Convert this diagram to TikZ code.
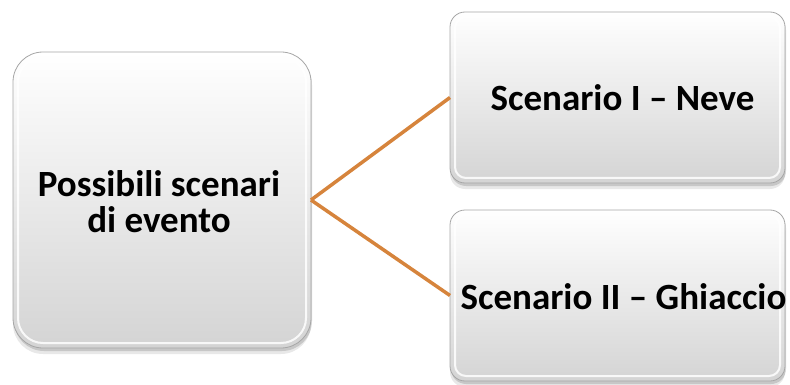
\documentclass[tikz,border=0pt]{standalone}
\usepackage{fontspec}
\setmainfont{Carlito}
\usetikzlibrary{shadows}
\definecolor{conn}{HTML}{D6843C}
\definecolor{edgegray}{HTML}{A6A6A6}
\definecolor{facebot}{HTML}{D4D4D4}
\begin{document}
\begin{tikzpicture}[x=1pt,y=-1pt,
  card/.style={draw=edgegray, line width=0.8pt, top color=white, bottom color=facebot,
    inner sep=0pt, outer sep=0pt, align=center,
    drop shadow={shadow xshift=1pt, shadow yshift=-3pt, opacity=.14, fill=black},
    drop shadow={shadow xshift=0pt, shadow yshift=-6pt, opacity=.09, fill=black}},
  bigcard/.style={card, rounded corners=30pt, minimum width=298pt, minimum height=296pt},
  smallcard/.style={card, rounded corners=15pt, minimum width=335pt, minimum height=171pt},
  bevel/.style={draw=white, line width=2pt, opacity=.85},
  label/.style={font=\bfseries\fontsize{37}{36}\selectfont, align=center, inner sep=0pt},
  link/.style={draw=conn, line width=3.5pt}]
\useasboundingbox (0,0) rectangle (790,385);
\node[bigcard] (L) at (162,200) {};
\node[smallcard] (T) at (617.5,97.5) {};
\node[smallcard] (B) at (617.5,295.5) {};
\draw[bevel, rounded corners=25pt] ([shift={(5,5)}]L.north west) rectangle ([shift={(-5,-5)}]L.south east);
\draw[bevel, rounded corners=11pt] ([shift={(5,5)}]T.north west) rectangle ([shift={(-5,-5)}]T.south east);
\draw[bevel, rounded corners=11pt] ([shift={(5,5)}]B.north west) rectangle ([shift={(-5,-5)}]B.south east);
\node[label] (Lt) at ([xshift=-3pt,yshift=-2pt]L.center) {Possibili scenari\\di evento};
\node[label] (Tt) at ([xshift=5pt]T.center) {Scenario I – Neve};
\node[label] (Bt) at ([xshift=6pt,yshift=-1pt]B.center) {Scenario II – Ghiaccio};
\draw[link] (L.east) -- (T.west);
\draw[link] (L.east) -- (B.west);
\end{tikzpicture}
\end{document}
